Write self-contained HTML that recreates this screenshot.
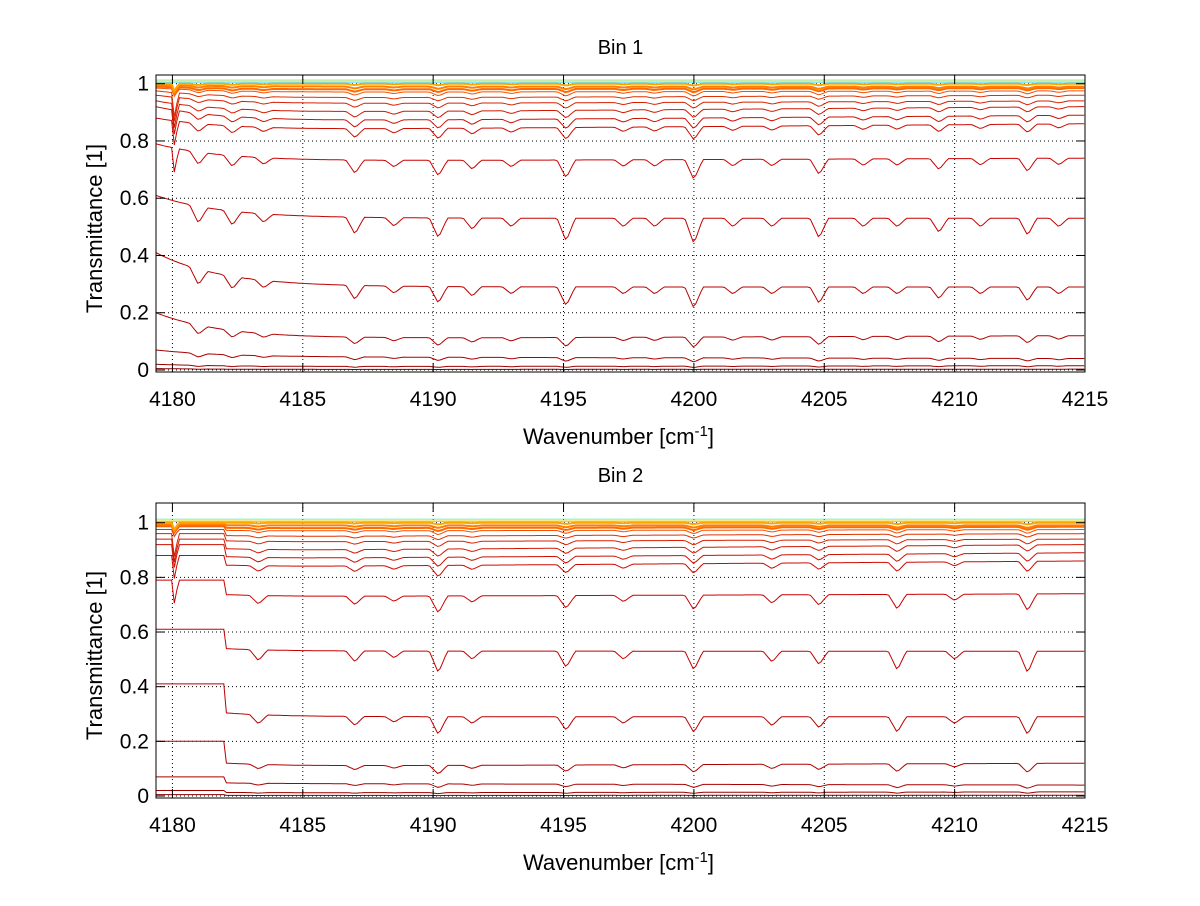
<!DOCTYPE html>
<html><head><meta charset="utf-8"><style>
body{margin:0;background:#fff;width:1200px;height:901px;overflow:hidden}
svg{font-family:"Liberation Sans",sans-serif}
</style></head><body>
<svg id="chart" width="1200" height="901"></svg>
<script>
// ---- data ----
const curveStart = [1.0, 0.995, 0.99, 0.985, 0.975, 0.96, 0.94, 0.92, 0.88, 0.79, 0.61, 0.41, 0.20, 0.07, 0.02, 0.005];
const curveMid   = [1.0, 0.99, 0.98, 0.97, 0.95, 0.93, 0.90, 0.87, 0.84, 0.73, 0.53, 0.29, 0.11, 0.045, 0.012, 0.002];
const curveEnd   = [1.0, 0.99, 0.985, 0.975, 0.96, 0.94, 0.92, 0.89, 0.86, 0.74, 0.53, 0.29, 0.12, 0.04, 0.015, 0.003];
const curveColor = ["#ffa500","#ff8000","#ff6a00","#f05000","#e03000","#d82000","#d01800","#cc1000","#cc0a00","#cc0000","#c40000","#b80000","#b00000","#a80000","#990000","#880000"];
const lines1Pos   = [4181.0,4182.3,4183.5,4187.0,4188.5,4190.2,4191.5,4193.0,4195.1,4197.3,4198.5,4200.0,4201.5,4203.0,4204.8,4206.5,4207.8,4209.4,4211.0,4212.8,4214.0];
const lines1Depth = [0.6,0.5,0.3,0.6,0.3,0.7,0.4,0.3,0.8,0.3,0.3,0.9,0.3,0.3,0.7,0.3,0.3,0.5,0.3,0.6,0.3];
const lines2Pos   = [4183.3,4187.0,4188.5,4190.2,4191.5,4195.1,4197.3,4200.0,4203.0,4204.8,4207.8,4210.0,4212.8];
const lines2Depth = [0.4,0.4,0.25,0.8,0.3,0.6,0.3,0.7,0.4,0.5,0.7,0.3,0.8];
const xTicks = [4180,4185,4190,4195,4200,4205,4210,4215];
const yTicks = [0,0.2,0.4,0.6,0.8,1];
const yTickLabels = ["0","0.2","0.4","0.6","0.8","1"];

const NS="http://www.w3.org/2000/svg";
const svg=document.getElementById('chart');
function mk(tag,attrs,parent){const e=document.createElementNS(NS,tag);for(const k in attrs)e.setAttribute(k,attrs[k]);(parent||svg).appendChild(e);return e;}

const panels=[
 {title:"Bin 1",top:75,bottom:372,y0:370,y1:83.7,lp:lines1Pos,ld:lines1Depth,step:false,name:"bin1"},
 {title:"Bin 2",top:503,bottom:798,y0:796,y1:522.7,lp:lines2Pos,ld:lines2Depth,step:true,name:"bin2"}
];
const L=156,R=1085,xmin=4179.37,xmax=4215;
const X=v=>L+(v-xmin)/(xmax-xmin)*(R-L);

panels.forEach(p=>{
 const Y=v=>p.y0+(p.y1-p.y0)*v;
 const g=mk('g',{});
 
 
 mk('rect',{x:L,y:p.top,width:R-L,height:p.bottom-p.top,fill:'#fff'},g);
 xTicks.forEach(t=>{const l=mk('line',{x1:X(t),x2:X(t),y1:p.top,y2:p.bottom,stroke:'#000','stroke-width':1,'stroke-dasharray':'1,3'},g);
  });
 yTicks.forEach(t=>{const l=mk('line',{x1:L,x2:R,y1:Y(t),y2:Y(t),stroke:'#000','stroke-width':1,'stroke-dasharray':'1,3'},g);
  });
 for(let c=curveStart.length-1;c>=0;c--){
  let pts=[];
  for(let x=xmin;x<=xmax+0.001;x+=0.1){
   const trend=(curveEnd[c]-curveMid[c])*Math.max(0,x-4185)/30;
   let base;
   if(p.step){ base = x<4182.0?curveStart[c]:curveMid[c]+(curveStart[c]-curveMid[c])*0.12*Math.exp(-(x-4182)/2)+trend; }
   else{ base = curveMid[c]+(curveStart[c]-curveMid[c])*Math.exp(-(x-xmin)/2.5)+trend; }
   let T=base;
   const f=4*Math.max(T,0)*(1-Math.min(T,1))*0.1+(T>0.97?0.008:0);
   p.lp.forEach((lp,i)=>{const d=Math.abs(x-lp);if(d<0.35)T-=p.ld[i]*f*(1-d/0.35);});
   const ds=Math.abs(x-4180.1);
   if(ds<0.1 && T>0.7) T-=0.12*(1-ds/0.1)*(T>0.97?0.3:1);
   if(T<-0.004)T=-0.004;
   pts.push(X(x).toFixed(1)+','+Y(T).toFixed(1));
  }
  const pl=mk('polyline',{points:pts.join(' '),fill:'none',stroke:curveColor[c],'stroke-width':c<3?2:1},g);
  
  
 }
 ["#00c8ff","#ffd700","#40e0a0"].forEach((col,i)=>{
  const pl=mk('polyline',{points:`${X(xmin)},${Y(1.005+i*0.004)} ${X(xmax)},${Y(1.005+i*0.004)}`,fill:'none',stroke:col,'stroke-width':1,opacity:0.6},g);
  
 });
 mk('rect',{x:L,y:p.top,width:R-L,height:p.bottom-p.top,fill:'none',stroke:'#000','stroke-width':1},g);
 xTicks.forEach(t=>{
  mk('line',{x1:X(t),x2:X(t),y1:p.bottom,y2:p.bottom-9,stroke:'#000'},g);
  mk('line',{x1:X(t),x2:X(t),y1:p.top,y2:p.top+9,stroke:'#000'},g);
  const tx=mk('text',{x:X(t),y:p.bottom+34,'text-anchor':'middle','font-size':21},g);tx.textContent=t;
  
 });
 yTicks.forEach((t,i)=>{
  mk('line',{x1:L,x2:L+9,y1:Y(t),y2:Y(t),stroke:'#000'},g);
  mk('line',{x1:R,x2:R-9,y1:Y(t),y2:Y(t),stroke:'#000'},g);
  const tx=mk('text',{x:L-7,y:Y(t)+7,'text-anchor':'end','font-size':21},g);tx.textContent=yTickLabels[i];
  
 });
 const ti=mk('text',{x:(L+R)/2,y:p.top-21,'text-anchor':'middle','font-size':20},g);ti.textContent=p.title;
 
 const xl=mk('text',{x:(L+R)/2-2,y:p.bottom+72,'text-anchor':'middle','font-size':22},g);
 xl.innerHTML='Wavenumber [cm<tspan dy="-8" font-size="15">-1</tspan><tspan dy="8">]</tspan>';
 
 const yl=mk('text',{x:0,y:0,'text-anchor':'middle','font-size':22,transform:`translate(102,${(p.top+p.bottom)/2+5}) rotate(-90)`},g);
 yl.textContent='Transmittance [1]';
 
});
</script>
</body></html>
